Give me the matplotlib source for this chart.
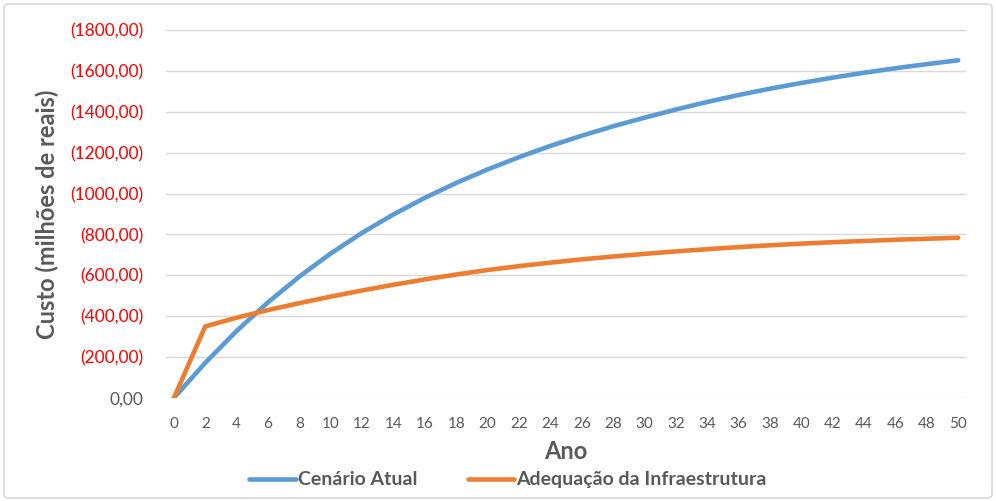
import matplotlib.pyplot as plt
from matplotlib.patches import FancyBboxPatch
from matplotlib.ticker import FuncFormatter

plt.rcParams["font.family"] = ["Lato", "DejaVu Sans"]

anos = list(range(0, 51, 2))
cenario_atual = [0, 172, 328, 468, 594, 707, 808, 898, 979, 1052, 1118, 1178, 1233,
                 1283, 1329, 1371, 1411, 1448, 1482, 1513, 1541, 1567, 1591, 1613, 1633, 1652]
adequacao = [0, 350, 393, 430, 464, 496, 526, 554, 580, 604, 626, 645, 662,
             678, 692, 705, 717, 728, 738, 747, 755, 762, 768, 774, 779, 784]

AZUL = "#5b9bd5"
LARANJA = "#ed7d31"
CINZA = "#595959"

fig = plt.figure(figsize=(9.96, 5.01), dpi=100)
ax = fig.add_axes([0.1667, 0.2056, 0.8032, 0.7345])

ax.plot(anos, cenario_atual, color=AZUL, linewidth=3.3, solid_capstyle="round",
        solid_joinstyle="round", label="Cenário Atual")
ax.plot(anos, adequacao, color=LARANJA, linewidth=3.3, solid_capstyle="round",
        solid_joinstyle="round", label="Adequação da Infraestrutura")

ax.set_xlim(-0.5, 50.5)
ax.set_ylim(0, 1800)
ax.set_xticks(anos)
ax.set_yticks(range(0, 1801, 200))


def fmt_custo(v, pos):
    if v == 0:
        return "0,00"
    return f"({v:.2f})".replace(".", ",")


ax.yaxis.set_major_formatter(FuncFormatter(fmt_custo))
ax.tick_params(axis="both", length=0)
ax.tick_params(axis="y", labelsize=12.5, colors="red", pad=16)
ax.tick_params(axis="x", labelsize=11, colors=CINZA, pad=14)
for lbl in ax.get_yticklabels():
    if lbl.get_text() == "0,00":
        lbl.set_color(CINZA)

ax.grid(True, axis="y", color="#d9d9d9", linewidth=1.0)
ax.set_axisbelow(True)
for s in ax.spines.values():
    s.set_visible(False)

ax.set_xlabel("Ano", fontsize=17, fontweight="bold", color=CINZA, labelpad=6)
ax.set_ylabel("Custo (milhões de reais)", fontsize=17, fontweight="bold", color=CINZA, labelpad=8)

fig.legend(loc="center", bbox_to_anchor=(0.51, 0.042), ncol=2, frameon=False,
           handlelength=2.4, handletextpad=0.1, columnspacing=2.6,
           labelcolor=CINZA, prop={"weight": "bold", "size": 14})

fig.patches.append(FancyBboxPatch((0.004, 0.006), 0.992, 0.986, boxstyle="round,pad=0,rounding_size=0.006",
                                  transform=fig.transFigure, facecolor="none",
                                  edgecolor="#d9d9d9", linewidth=1.2))

fig.savefig("out.png", dpi=100, facecolor="white")
